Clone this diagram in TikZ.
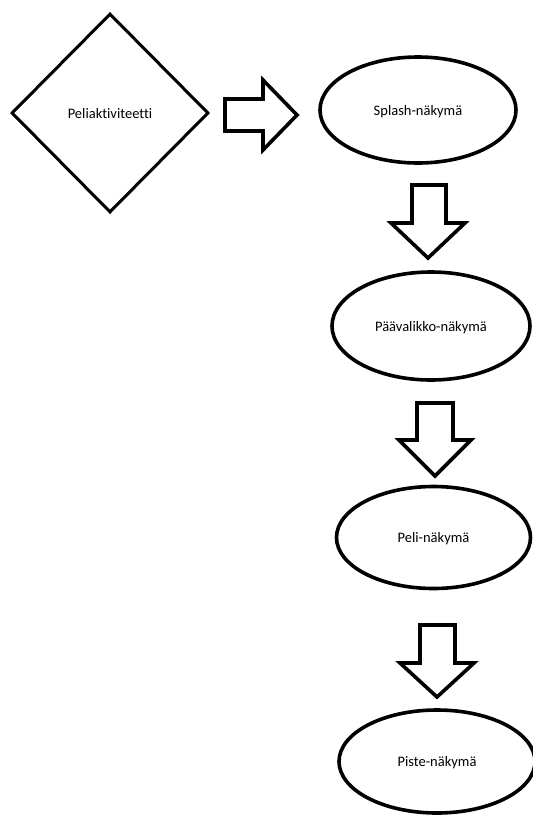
\documentclass[tikz,border=0pt]{standalone}
\usepackage{fontspec}
\setmainfont{Carlito}[Ligatures=CommonOff]
\usetikzlibrary{shapes.geometric}
\tikzset{
  view/.style={ellipse, draw, line width=3.6pt, inner sep=0pt, text depth=0pt, font=\fontsize{14.5}{16}\selectfont},
  hub/.style={diamond, draw, line width=3pt, inner sep=0pt, text depth=0pt, font=\fontsize{14.5}{16}\selectfont},
  blockarrow/.style={draw, line width=3.6pt, line join=miter, fill=white}
}
\begin{document}
\begin{tikzpicture}[x=1pt,y=-1pt]
\clip (0,0) rectangle (533,817);
\fill[white] (0,0) rectangle (533,817);
% nodes
\node[hub, minimum width=197pt, minimum height=199pt] (act) at (110,113) {Peliaktiviteetti};
\node[view, minimum width=196pt, minimum height=106pt] (splash) at (418,110) {Splash-näkymä};
\node[view, minimum width=198pt, minimum height=108pt] (menu) at (431,326) {Päävalikko-näkymä};
\node[view, minimum width=194pt, minimum height=102pt] (game) at (433.5,537.5) {Peli-näkymä};
\node[view, minimum width=196pt, minimum height=103pt] (score) at (437,761.5) {Piste-näkymä};
% block arrows
\draw[blockarrow] (225,99) -- (263,99) -- (263,80) -- (297,115) -- (263,150) -- (263,131) -- (225,131) -- cycle;
\draw[blockarrow] (412,185) -- (446,185) -- (446,223) -- (465,223) -- (428,258) -- (391,223) -- (412,223) -- cycle;
\draw[blockarrow] (417,403) -- (453,403) -- (453,440) -- (471,440) -- (435,476) -- (399,440) -- (417,440) -- cycle;
\draw[blockarrow] (420,625) -- (455,625) -- (455,663) -- (474,663) -- (437,697) -- (400,663) -- (420,663) -- cycle;
\end{tikzpicture}
\end{document}
